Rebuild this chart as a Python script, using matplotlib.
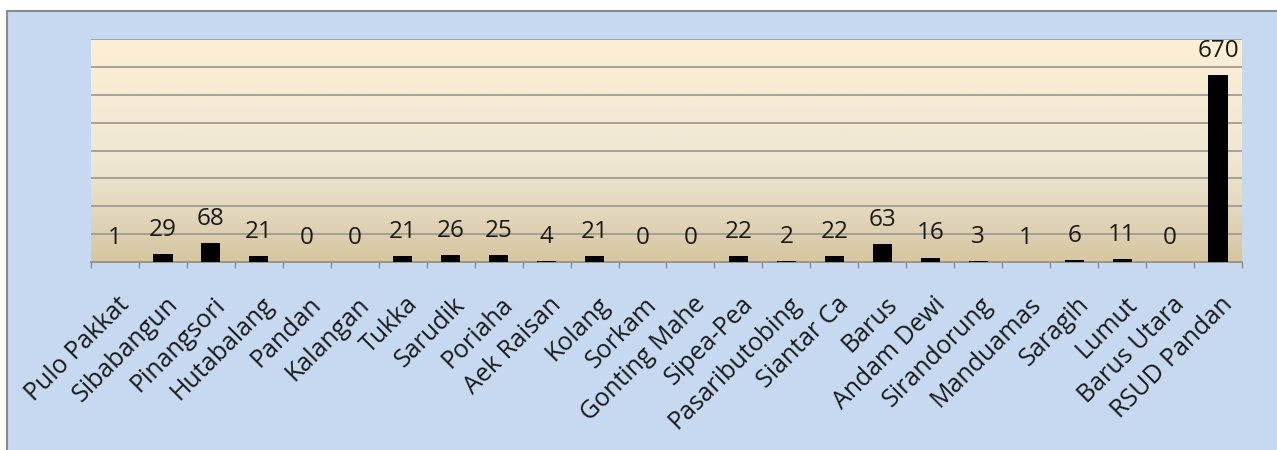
import numpy as np
import matplotlib
matplotlib.use("Agg")
import matplotlib.pyplot as plt
from matplotlib.colors import LinearSegmentedColormap
from matplotlib.patches import Rectangle

plt.rcParams['font.family'] = ['Open Sans', 'DejaVu Sans']

places = ["Pulo Pakkat", "Sibabangun", "Pinangsori", "Hutabalang", "Pandan",
          "Kalangan", "Tukka", "Sarudik", "Poriaha", "Aek Raisan", "Kolang",
          "Sorkam", "Gonting Mahe", "Sipea-Pea", "Pasaributobing", "Siantar Ca",
          "Barus", "Andam Dewi", "Sirandorung", "Manduamas", "Saragih", "Lumut",
          "Barus Utara", "RSUD Pandan"]
counts = [1, 29, 68, 21, 0, 0, 21, 26, 25, 4, 21, 0, 0, 22, 2, 22,
          63, 16, 3, 1, 6, 11, 0, 670]

fig = plt.figure(figsize=(12.77, 4.5), dpi=100)
fig.patch.set_facecolor("white")

# outer chart frame (cropped at right and bottom)
frame = Rectangle((7 / 1277, -0.05), 1.1, (440 / 450) + 0.05 - 0.002,
                  transform=fig.transFigure, facecolor="#c6d9f0",
                  edgecolor="#8c8c8c", linewidth=1.5, zorder=-5)
fig.patches.append(frame)

ax = fig.add_axes([91 / 1277, 188 / 450, 1151 / 1277, 223 / 450])
ax.set_facecolor("none")

n = len(places)
x = np.arange(n)
ax.set_xlim(-0.5, n - 0.5)
ax.set_ylim(0, 800)

# background gradient of plot area
cmap = LinearSegmentedColormap.from_list(
    "bg", [(0, "#d6c6a0"), (0.25, "#e4d9bf"), (0.45, "#efe7d3"), (1, "#fdefd3")])
grad = np.linspace(0, 1, 256).reshape(-1, 1)
ax.imshow(grad, cmap=cmap, aspect="auto", origin="lower",
          extent=(-0.5, n - 0.5, 0, 800), zorder=0)

ax.set_yticks(np.arange(0, 801, 100))
ax.yaxis.grid(True, color="#a09c94", linewidth=1.3, zorder=1)
ax.set_axisbelow(False)
ax.tick_params(axis="y", length=0, labelleft=False)

ax.bar(x, counts, width=0.4, color="black", zorder=3)

for i, v in enumerate(counts):
    ax.annotate(str(v), xy=(i, v), xytext=(0, 13), textcoords="offset points",
                ha="center", va="baseline", fontsize=17.5, color="#1a1a1a", zorder=4)

ax.set_xticks(np.arange(-0.5, n, 1.0))
ax.set_xticklabels([])
ax.tick_params(axis="x", direction="out", length=4, color="#8c8c8c", width=1)

for i, name in enumerate(places):
    ax.annotate(name, xy=(i, 0), xycoords=("data", "axes fraction"),
                xytext=(8, -28), textcoords="offset points",
                rotation=45, rotation_mode="anchor", ha="right", va="center",
                fontsize=18, color="#1a1a1a", annotation_clip=False)

for s in ["left", "right", "top"]:
    ax.spines[s].set_visible(False)
ax.spines["bottom"].set_color("#8c8c8c")
ax.spines["bottom"].set_linewidth(1.3)

fig.savefig("out.png", dpi=100, facecolor=fig.get_facecolor())
